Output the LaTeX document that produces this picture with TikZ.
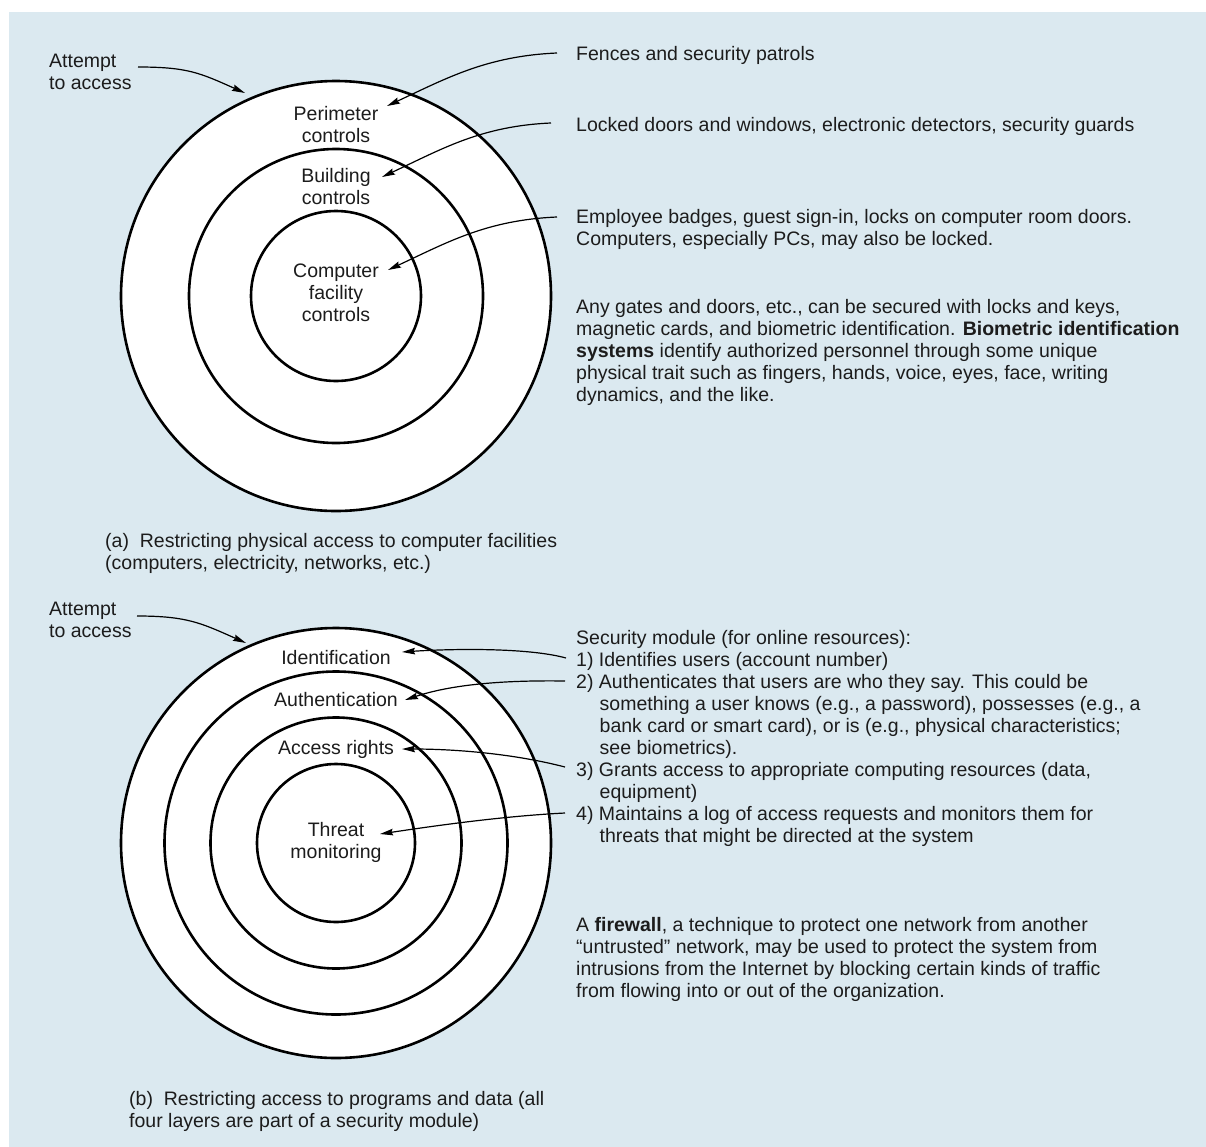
\documentclass[tikz,border=0pt]{standalone}
\usepackage{fontspec}
\setmainfont{Liberation Sans}
\usetikzlibrary{arrows.meta}
\definecolor{panel}{RGB}{219,233,240}
\definecolor{ink}{RGB}{28,28,28}

\begin{document}
\begin{tikzpicture}[x=1bp, y=-1bp,
  ring/.style={circle, draw=black, line width=2.6bp, fill=white, inner sep=0pt},
  lbl/.style={font={\fontsize{19.5bp}{22bp}\selectfont}, align=center, inner sep=0pt, anchor=base, text=ink},
  txt/.style={font={\fontsize{19.5bp}{22bp}\selectfont}, align=left, inner sep=0pt, anchor=base west, text=ink},
  ptr/.style={line width=1.2bp, draw=black, -{Stealth[length=13bp,width=6.5bp,inset=1.5bp]}},
]
% page and shaded panel (multi-line texts are placed by the baseline of their last line)
\fill[white] (0,0) rectangle (1206,1147);
\useasboundingbox (0,0) rectangle (1206,1147);
\fill[panel] (9,12) rectangle (1206,1147);

% ---------- (a) physical access ----------
\node[ring, minimum size=430bp] (aOuter) at (336,296) {};
\node[ring, minimum size=294bp] (aMid)   at (336,296) {};
\node[ring, minimum size=170bp] (aInner) at (336,296) {};

\node[lbl] (perim) at (336,142) {Perimeter\\controls};
\node[lbl] (build) at (336,204) {Building\\controls};
\node[lbl] (comp)  at (336,321) {Computer\\facility\\controls};

\node[txt] (attA) at (49,89) {Attempt\\to access};
\node[txt] (fences) at (576,60) {Fences and security patrols};
\node[txt] (locked) at (576,131) {Locked doors and windows, electronic detectors, security guards};
\node[txt] (badges) at (576,245) {Employee badges, guest sign-in, locks on computer room doors.\\Computers, especially PCs, may also be locked.};
\node[txt] (gates) at (576,401) {Any gates and doors, etc., can be secured with locks and keys,\\
magnetic cards, and biometric identification. \textbf{Biometric identification}\\
\textbf{systems} identify authorized personnel through some unique\\
physical trait such as fingers, hands, voice, eyes, face, writing\\
dynamics, and the like.};
\node[txt] (capA) at (105,569) {(a)\ \ Restricting physical access to computer facilities\\(computers, electricity, networks, etc.)};

\coordinate (attAs) at (138,67);
\coordinate (attAe) at (245,93);
\coordinate (fencesS) at (557,53);
\coordinate (perimT) at (387,106);
\coordinate (lockedS) at (551,123);
\coordinate (buildT) at (382,177);
\coordinate (badgesS) at (557,217);
\coordinate (compT) at (388,270);

\draw[ptr] (attAs) .. controls +(50,0) and +(-45,-20) .. (attAe);
\draw[ptr] (fencesS) .. controls +(-70,3) and +(60,-28) .. (perimT);
\draw[ptr] (lockedS) .. controls +(-70,3) and +(60,-28) .. (buildT);
\draw[ptr] (badgesS) .. controls +(-70,3) and +(60,-28) .. (compT);

% ---------- (b) programs and data ----------
\node[ring, minimum size=430bp] (bOuter) at (336,843) {};
\node[ring, minimum size=343bp] (bSecond) at (336,843) {};
\node[ring, minimum size=251bp] (bThird) at (336,843) {};
\node[ring, minimum size=158bp] (bInner) at (336,843) {};

\node[lbl] (ident) at (336,664) {Identification};
\node[lbl] (authn) at (336,706.5) {Authentication};
\node[lbl] (rights) at (336,754) {Access rights};
\node[lbl] (threat) at (336,858) {Threat\\monitoring};

\node[txt] (attB) at (49,637) {Attempt\\to access};
\node[txt] (module) at (576,842) {Security module (for online resources):\\
1) Identifies users (account number)\\
2) Authenticates that users are who they say. This could be\\
\hspace*{23.5bp}something a user knows (e.g., a password), possesses (e.g., a\\
\hspace*{23.5bp}bank card or smart card), or is (e.g., physical characteristics;\\
\hspace*{23.5bp}see biometrics).\\
3) Grants access to appropriate computing resources (data,\\
\hspace*{23.5bp}equipment)\\
4) Maintains a log of access requests and monitors them for\\
\hspace*{23.5bp}threats that might be directed at the system};
\node[txt] (firewall) at (576,997) {A \textbf{firewall}, a technique to protect one network from another\\
“untrusted” network, may be used to protect the system from\\
intrusions from the Internet by blocking certain kinds of traffic\\
from flowing into or out of the organization.};
\node[txt] (capB) at (129,1127) {(b)\ \ Restricting access to programs and data (all\\four layers are part of a security module)};

\coordinate (attBs) at (137,616);
\coordinate (attBe) at (246,643);
\coordinate (item1S) at (566,658);
\coordinate (identT) at (402,652);
\coordinate (item2S) at (565,681);
\coordinate (authnT) at (405,700);
\coordinate (item3S) at (565,767);
\coordinate (rightsT) at (402,749);
\coordinate (item4S) at (565,813);
\coordinate (threatT) at (380,834);

\draw[ptr] (attBs) .. controls +(50,0) and +(-45,-20) .. (attBe);
\draw[ptr] (item1S) .. controls +(-40,-11) and +(45,-3) .. (identT);
\draw[ptr] (item2S) .. controls +(-65,-1) and +(45,-15) .. (authnT);
\draw[ptr] (item3S) .. controls +(-50,-13) and +(55,0) .. (rightsT);
\draw[ptr] (item4S) .. controls +(-60,3) and +(60,-9) .. (threatT);
\end{tikzpicture}
\end{document}
